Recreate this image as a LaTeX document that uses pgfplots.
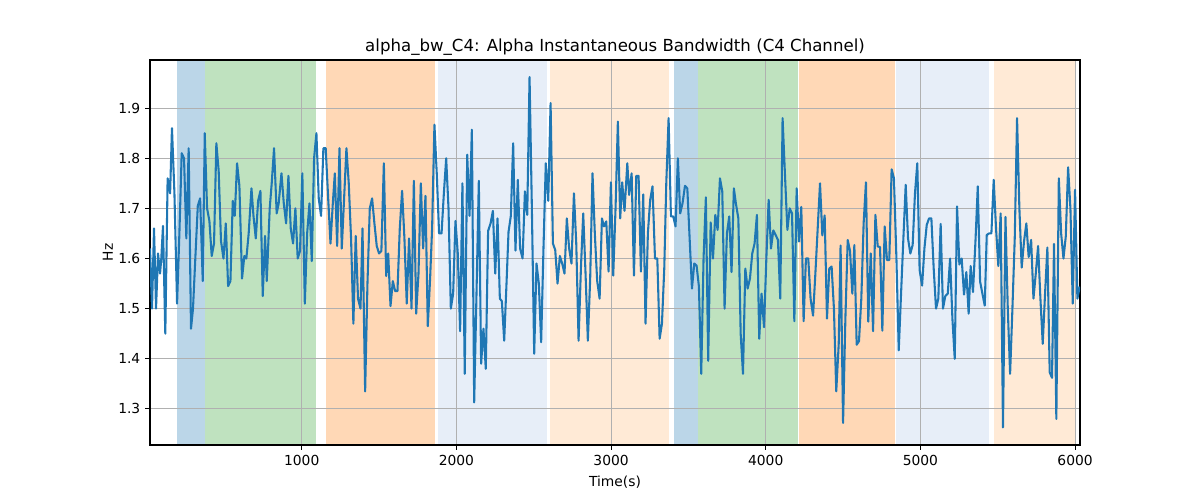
\documentclass[border=0pt]{standalone}
\usepackage{pgfplots}
\pgfplotsset{compat=1.18}
\usepackage{fontspec}
\setmainfont{DejaVu Sans}
\definecolor{tabblue}{HTML}{1F77B4}
\definecolor{tabgreen}{HTML}{2CA02C}
\definecolor{taborange}{HTML}{FF7F0E}
\definecolor{ltblue}{HTML}{AEC7E8}
\definecolor{ltorange}{HTML}{FFBB78}
\definecolor{gridgray}{HTML}{B0B0B0}
\pgfplotstableread{
t v
19 1.62
32 1.50
45 1.66
58 1.50
71 1.61
84 1.57
92 1.60
103 1.665
118 1.45
133 1.76
149 1.73
161 1.86
177 1.73
194 1.51
209 1.65
224 1.81
239 1.80
254 1.64
269 1.82
284 1.46
297 1.50
312 1.60
328 1.705
343 1.72
360 1.555
373 1.85
388 1.70
403 1.675
418 1.605
433 1.63
448 1.83
463 1.775
478 1.635
494 1.60
509 1.67
524 1.545
539 1.555
554 1.715
567 1.685
582 1.79
597 1.745
614 1.56
629 1.605
642 1.60
657 1.65
675 1.74
688 1.685
703 1.64
718 1.715
733 1.735
748 1.525
763 1.645
774 1.555
793 1.70
806 1.75
821 1.82
838 1.69
851 1.71
869 1.77
884 1.71
899 1.67
914 1.765
929 1.66
944 1.63
959 1.70
974 1.60
989 1.615
1004 1.77
1020 1.51
1035 1.65
1050 1.71
1065 1.595
1080 1.80
1095 1.85
1110 1.72
1125 1.685
1140 1.82
1155 1.82
1171 1.72
1186 1.63
1201 1.71
1214 1.77
1229 1.625
1244 1.82
1259 1.62
1274 1.72
1289 1.82
1304 1.75
1319 1.64
1334 1.47
1349 1.645
1364 1.52
1380 1.50
1393 1.66
1410 1.335
1425 1.55
1440 1.70
1455 1.72
1470 1.67
1485 1.625
1500 1.61
1515 1.615
1531 1.79
1546 1.565
1559 1.61
1574 1.505
1589 1.555
1604 1.535
1619 1.535
1634 1.66
1649 1.735
1664 1.64
1679 1.51
1694 1.64
1710 1.50
1725 1.755
1740 1.49
1755 1.57
1770 1.75
1785 1.62
1800 1.725
1815 1.465
1830 1.56
1843 1.66
1858 1.867
1873 1.77
1888 1.65
1904 1.65
1919 1.73
1934 1.80
1949 1.70
1964 1.50
1979 1.53
1994 1.675
2009 1.61
2024 1.455
2039 1.75
2054 1.37
2070 1.807
2085 1.685
2100 1.857
2115 1.313
2130 1.53
2145 1.755
2160 1.39
2175 1.46
2190 1.38
2205 1.655
2221 1.67
2236 1.695
2251 1.57
2266 1.68
2281 1.52
2294 1.515
2309 1.436
2324 1.55
2337 1.653
2352 1.685
2367 1.83
2382 1.616
2397 1.757
2412 1.62
2428 1.60
2443 1.734
2458 1.687
2473 1.962
2488 1.70
2503 1.41
2518 1.59
2533 1.55
2548 1.433
2563 1.62
2578 1.79
2594 1.715
2609 1.91
2624 1.63
2639 1.617
2654 1.55
2669 1.605
2684 1.59
2699 1.57
2714 1.68
2729 1.62
2744 1.59
2760 1.73
2775 1.63
2790 1.436
2805 1.58
2820 1.69
2835 1.57
2850 1.436
2865 1.56
2880 1.77
2895 1.65
2910 1.556
2926 1.52
2941 1.68
2954 1.664
2969 1.674
2984 1.574
2999 1.752
3014 1.566
3029 1.70
3044 1.873
3059 1.68
3072 1.752
3087 1.695
3105 1.79
3117 1.727
3133 1.77
3148 1.566
3163 1.765
3178 1.765
3193 1.574
3208 1.728
3223 1.47
3238 1.65
3253 1.717
3268 1.744
3284 1.60
3299 1.60
3314 1.44
3329 1.47
3344 1.58
3357 1.75
3372 1.88
3387 1.684
3402 1.684
3417 1.664
3432 1.80
3447 1.69
3462 1.71
3478 1.745
3493 1.74
3508 1.64
3523 1.54
3538 1.59
3553 1.586
3568 1.544
3583 1.37
3598 1.60
3613 1.722
3628 1.396
3644 1.672
3659 1.60
3674 1.687
3689 1.657
3704 1.76
3719 1.734
3734 1.50
3749 1.65
3764 1.684
3779 1.573
3794 1.74
3807 1.71
3823 1.68
3838 1.45
3853 1.37
3868 1.58
3883 1.54
3898 1.56
3913 1.61
3928 1.63
3943 1.687
3958 1.44
3973 1.53
3989 1.463
4004 1.60
4019 1.717
4034 1.62
4049 1.656
4064 1.647
4079 1.637
4094 1.52
4109 1.88
4124 1.77
4140 1.657
4155 1.70
4170 1.69
4185 1.475
4200 1.74
4215 1.634
4230 1.703
4245 1.475
4260 1.60
4275 1.60
4290 1.52
4306 1.486
4321 1.57
4336 1.66
4351 1.75
4366 1.646
4381 1.686
4396 1.48
4411 1.58
4426 1.584
4441 1.50
4456 1.335
4472 1.43
4484 1.626
4500 1.272
4515 1.48
4530 1.637
4545 1.615
4560 1.53
4573 1.627
4588 1.428
4603 1.435
4618 1.52
4633 1.67
4648 1.752
4663 1.474
4679 1.61
4694 1.455
4709 1.687
4724 1.624
4739 1.623
4754 1.456
4769 1.664
4784 1.597
4799 1.597
4814 1.778
4829 1.76
4845 1.60
4860 1.417
4875 1.53
4890 1.64
4905 1.747
4920 1.64
4935 1.61
4950 1.627
4965 1.73
4980 1.79
4995 1.577
5011 1.546
5026 1.62
5041 1.667
5056 1.68
5071 1.68
5086 1.58
5101 1.50
5116 1.52
5131 1.669
5146 1.50
5161 1.525
5177 1.53
5192 1.60
5207 1.48
5222 1.40
5237 1.704
5252 1.588
5267 1.60
5282 1.528
5297 1.573
5312 1.49
5325 1.585
5340 1.533
5356 1.634
5371 1.744
5386 1.554
5401 1.53
5416 1.506
5429 1.647
5444 1.65
5459 1.65
5474 1.757
5489 1.66
5504 1.585
5519 1.69
5534 1.263
5550 1.683
5565 1.50
5580 1.37
5595 1.50
5610 1.64
5625 1.88
5640 1.70
5655 1.582
5670 1.634
5685 1.67
5700 1.603
5716 1.637
5731 1.52
5746 1.57
5761 1.625
5776 1.52
5791 1.43
5806 1.53
5821 1.622
5836 1.373
5851 1.362
5864 1.629
5879 1.28
5895 1.76
5910 1.65
5925 1.60
5940 1.644
5955 1.782
5970 1.70
5985 1.51
6000 1.737
6015 1.52
6030 1.544
}\datatable
\begin{document}
\begin{tikzpicture}
\begin{axis}[
  set layers,
  scale only axis,
  width=9.3in, height=3.85in,
  xmin=19, xmax=6032, ymin=1.228, ymax=1.996,
  xtick={1000,2000,3000,4000,5000,6000},
  ytick={1.3,1.4,1.5,1.6,1.7,1.8,1.9},
  yticklabel style={/pgf/number format/fixed,/pgf/number format/precision=1,/pgf/number format/fixed zerofill},
  /pgf/number format/assume math mode=true,
  scaled x ticks=false,
  xticklabel style={/pgf/number format/1000 sep={}},
  tick align=outside,
  major tick length=3.5pt,
  tick style={black, line width=0.8pt},
  xtick pos=bottom, ytick pos=left,
  grid=major,
  major grid style={gridgray, line width=0.8pt},
  axis line style={black, line width=0.8pt},
  ticklabel style={font=\fontsize{10}{12}\selectfont},
  xlabel={Time(s)}, ylabel={Hz},
  label style={font=\fontsize{10}{12}\selectfont},
  xlabel style={yshift=-0.6pt},
  ylabel style={yshift=-3pt},
  title={alpha\_bw\_C4: Alpha Instantaneous Bandwidth (C4 Channel)},
  title style={font=\fontsize{12}{14}\selectfont, yshift=-6.3pt},
]
\begin{pgfonlayer}{axis background}
\fill[tabblue, opacity=0.3] (axis cs:196,1.228) rectangle (axis cs:375,1.996);
\fill[tabgreen, opacity=0.3] (axis cs:375,1.228) rectangle (axis cs:1095,1.996);
\fill[taborange, opacity=0.3] (axis cs:1160,1.228) rectangle (axis cs:1860,1.996);
\fill[ltblue, opacity=0.3] (axis cs:1878,1.228) rectangle (axis cs:2585,1.996);
\fill[ltorange, opacity=0.3] (axis cs:2602,1.228) rectangle (axis cs:3374,1.996);
\fill[tabblue, opacity=0.3] (axis cs:3406,1.228) rectangle (axis cs:3564,1.996);
\fill[tabgreen, opacity=0.3] (axis cs:3564,1.228) rectangle (axis cs:4206,1.996);
\fill[taborange, opacity=0.3] (axis cs:4213,1.228) rectangle (axis cs:4834,1.996);
\fill[ltblue, opacity=0.3] (axis cs:4840,1.228) rectangle (axis cs:5442,1.996);
\fill[ltorange, opacity=0.3] (axis cs:5474,1.228) rectangle (axis cs:6000,1.996);
\end{pgfonlayer}
\addplot[tabblue, line width=1.5pt, line join=round, mark=none] table[x=t, y=v] {\datatable};
\end{axis}
\useasboundingbox (-1.5in,-0.55in) rectangle (10.5in,4.45in);
\end{tikzpicture}
\end{document}
